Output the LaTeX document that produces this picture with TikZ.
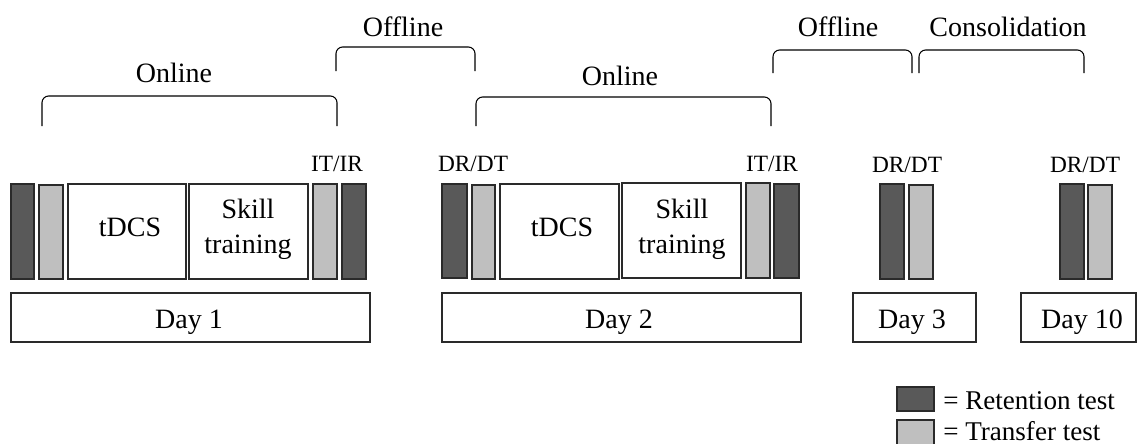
\documentclass[tikz,border=0pt]{standalone}
\usepackage{fontspec}
\setmainfont{Liberation Serif}
\usetikzlibrary{fit}
\definecolor{darkbar}{HTML}{595959}
\definecolor{lightbar}{HTML}{BFBFBF}
\definecolor{edgecol}{HTML}{2A2A2A}
\tikzset{
  boxbase/.style={draw=edgecol, line width=0.8pt, inner sep=0pt},
  darkb/.style={boxbase, fill=darkbar},
  lightb/.style={boxbase, fill=lightbar},
  whiteb/.style={boxbase, fill=white},
  bigtxt/.style={font=\fontsize{21}{25}\selectfont, inner sep=0pt, anchor=base},
  legtxt/.style={font=\fontsize{20.3}{24}\selectfont, inner sep=0pt, anchor=base west},
  smalltxt/.style={font=\fontsize{17.5}{21}\selectfont, inner sep=0pt, anchor=base},
  bracketline/.style={draw=black, line width=0.8pt, rounded corners=5pt}
}
\begin{document}
\begin{tikzpicture}[x=0.75pt, y=-0.75pt]
\useasboundingbox (0,0) rectangle (1137,443);

% ---- Day 1 ----
\node[darkb,  fit={(11,184) (34,279)}]  (d1r1) {};
\node[lightb, fit={(39,185) (63,279)}]  (d1t1) {};
\node[whiteb, fit={(68,184) (186,279)}] (d1tdcs) {};
\node[whiteb, fit={(189,184) (308,279)}] (d1skill) {};
\node[lightb, fit={(313,184) (337,279)}] (d1t2) {};
\node[darkb,  fit={(342,184) (366,279)}] (d1r2) {};
\node[whiteb, fit={(11,293) (370,342)}] (day1) {};
\node[bigtxt] (d1tdcst) at (130,236) {tDCS};
\node[bigtxt] (d1skt1) at (248,218) {Skill};
\node[bigtxt] (d1skt2) at (248,253) {training};
\node[bigtxt] (day1t) at (189,328) {Day 1};
\node[smalltxt] (d1itir) at (337,171) {IT/IR};

% ---- Day 2 ----
\node[darkb,  fit={(442,184) (467,278)}] (d2r1) {};
\node[lightb, fit={(472,185) (495,279)}] (d2t1) {};
\node[whiteb, fit={(500,184) (619,279)}] (d2tdcs) {};
\node[whiteb, fit={(622,183) (741,278)}] (d2skill) {};
\node[lightb, fit={(746,183) (770,278)}] (d2t2) {};
\node[darkb,  fit={(774,184) (799,278)}] (d2r2) {};
\node[whiteb, fit={(442,293) (801,342)}] (day2) {};
\node[bigtxt] (d2tdcst) at (562,236) {tDCS};
\node[bigtxt] (d2skt1) at (682,218) {Skill};
\node[bigtxt] (d2skt2) at (682,253) {training};
\node[bigtxt] (day2t) at (619,328) {Day 2};
\node[smalltxt] (d2drdt) at (473,171) {DR/DT};
\node[smalltxt] (d2itir) at (772,171) {IT/IR};

% ---- Day 3 ----
\node[darkb,  fit={(880,184) (904,279)}] (d3r) {};
\node[lightb, fit={(909,185) (933,279)}] (d3t) {};
\node[whiteb, fit={(853,293) (976,342)}] (day3) {};
\node[bigtxt] (day3t) at (912,328) {Day 3};
\node[smalltxt] (d3drdt) at (907,172) {DR/DT};

% ---- Day 10 ----
\node[darkb,  fit={(1060,184) (1084,279)}] (d10r) {};
\node[lightb, fit={(1088,185) (1112,279)}] (d10t) {};
\node[whiteb, fit={(1021,293) (1136,342)}] (day10) {};
\node[bigtxt] (day10t) at (1082,328) {Day 10};
\node[smalltxt] (d10drdt) at (1085,172) {DR/DT};

% ---- Brackets ----
\coordinate (on1a) at (42,126);  \coordinate (on1b) at (337,126);
\draw[bracketline] (on1a) -- (42,96) -- (337,96) -- (on1b);
\node[bigtxt] (on1t) at (174,82) {Online};

\coordinate (of1a) at (336,71);  \coordinate (of1b) at (475,71);
\draw[bracketline] (of1a) -- (336,47) -- (475,47) -- (of1b);
\node[bigtxt] (of1t) at (403,36) {Offline};

\coordinate (on2a) at (476,126); \coordinate (on2b) at (771,126);
\draw[bracketline] (on2a) -- (476,97) -- (771,97) -- (on2b);
\node[bigtxt] (on2t) at (620,85) {Online};

\coordinate (of2a) at (773,73);  \coordinate (of2b) at (912,73);
\draw[bracketline] (of2a) -- (773,50) -- (912,50) -- (of2b);
\node[bigtxt] (of2t) at (838,36) {Offline};

\coordinate (cona) at (919,73);  \coordinate (conb) at (1084,73);
\draw[bracketline] (cona) -- (919,50) -- (1084,50) -- (conb);
\node[bigtxt] (cont) at (1008,36) {Consolidation};

% ---- Legend ----
\node[darkb,  fit={(897,387) (934,411)}] (legr) {};
\node[lightb, fit={(897,420) (934,446)}] (legt) {};
\node[legtxt] (legrt) at (943,409) {= Retention test};
\node[legtxt] (legtt) at (943,440) {= Transfer test};
\end{tikzpicture}
\end{document}
